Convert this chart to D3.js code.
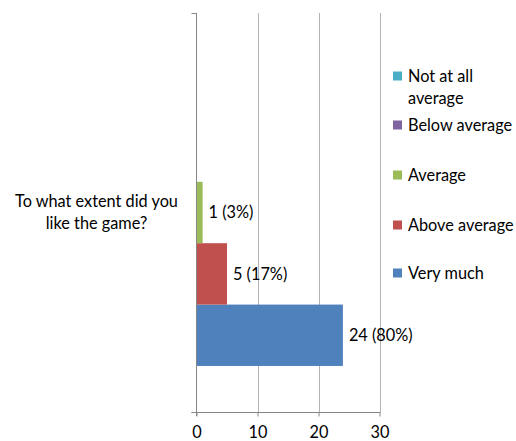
<!DOCTYPE html>
<html>
<head>
<meta charset="utf-8">
<script src="https://cdn.jsdelivr.net/npm/d3@7"></script>
<style>
  html, body { margin: 0; padding: 0; background: #fff; }
  svg { display: block; font-family: Lato, "Open Sans", sans-serif; }
</style>
</head>
<body>
<svg id="chart" width="516" height="441"></svg>
<script>
// Survey question and answer counts
const categories = ["To what extent did you like the game?"];
const seriesNames = ["Very much", "Above average", "Average", "Below average", "Not at all average"];
const seriesValues = [24, 5, 1, 0, 0];
const seriesPercents = [80, 17, 3, 0, 0];
const seriesColors = ["#4F81BD", "#C0504D", "#9BBB59", "#8064A2", "#4BACC6"];
const xTicks = [0, 10, 20, 30];

const FONT_SIZE = 16.3;
const svg = d3.select("#chart");
const plot = { left: 196.5, right: 379.5, top: 13, bottom: 412 };

const x = d3.scaleLinear().domain([0, 30]).range([plot.left, plot.right]);
const yCat = d3.scaleBand().domain(categories)
  .range([plot.bottom, plot.top]).paddingInner(0).paddingOuter(0.15);
const ySeries = d3.scaleBand().domain(seriesNames)
  .range([yCat.bandwidth(), 0]);

const gridColor = "#B3B3B3";
const axisColor = "#868686";

// vertical gridlines
svg.append("g").selectAll("line")
  .data(xTicks.filter(t => t > 0))
  .join("line")
  .attr("x1", d => Math.round(x(d)) + 0.5).attr("x2", d => Math.round(x(d)) + 0.5)
  .attr("y1", plot.top).attr("y2", plot.bottom)
  .attr("stroke", gridColor).attr("stroke-width", 1);

// bars
const rows = seriesNames.map((s, i) => ({ name: s, value: seriesValues[i], pct: seriesPercents[i], color: seriesColors[i] }));
const g = svg.append("g").attr("transform", `translate(0,${yCat(categories[0])})`);
g.selectAll("rect").data(rows).join("rect")
  .attr("x", x(0))
  .attr("y", d => ySeries(d.name))
  .attr("width", d => x(d.value) - x(0))
  .attr("height", ySeries.bandwidth())
  .attr("fill", d => d.color);

// value labels
g.selectAll("text").data(rows.filter(d => d.value > 0)).join("text")
  .attr("x", d => x(d.value) + 6)
  .attr("y", d => ySeries(d.name) + ySeries.bandwidth() / 2)
  .attr("dy", "0.35em")
  .attr("font-size", FONT_SIZE)
  .attr("fill", "#000")
  .text(d => `${d.value} (${d.pct}%)`);

// left (category) axis line with end ticks
const yAxisG = svg.append("g");
yAxisG.append("line")
  .attr("x1", plot.left).attr("x2", plot.left)
  .attr("y1", plot.top).attr("y2", plot.bottom + 4)
  .attr("stroke", axisColor);
[plot.top, plot.bottom].forEach(yy => {
  yAxisG.append("line")
    .attr("x1", plot.left - 5).attr("x2", plot.left)
    .attr("y1", yy + 0.5).attr("y2", yy + 0.5)
    .attr("stroke", axisColor);
});

// bottom value axis
const xAxis = d3.axisBottom(x).tickValues(xTicks).tickSize(4).tickPadding(10).tickFormat(d3.format("d"));
const xAxisG = svg.append("g")
  .attr("transform", `translate(0,${plot.bottom + 0.5})`)
  .call(xAxis);
xAxisG.select(".domain").remove();
xAxisG.append("line")
  .attr("x1", plot.left - 5).attr("x2", plot.right + 1)
  .attr("stroke", axisColor);
xAxisG.selectAll(".tick line").attr("stroke", axisColor);
xAxisG.selectAll(".tick text")
  .attr("font-family", "Lato, 'Open Sans', sans-serif")
  .attr("font-size", FONT_SIZE).attr("fill", "#000");

// category label, wrapped on two lines
const catLines = ["To what extent did you", "like the game?"];
svg.append("text")
  .attr("x", 96.5).attr("y", 206.5)
  .attr("text-anchor", "middle")
  .attr("font-size", FONT_SIZE).attr("fill", "#000")
  .selectAll("tspan").data(catLines).join("tspan")
  .attr("x", 96.5)
  .attr("dy", (d, i) => i === 0 ? 0 : 22.5)
  .text(d => d);

// legend (top entry is the last series)
const legendItems = [
  { name: seriesNames[4], lines: ["Not at all", "average"], color: seriesColors[4] },
  { name: seriesNames[3], lines: ["Below average"], color: seriesColors[3] },
  { name: seriesNames[2], lines: ["Average"], color: seriesColors[2] },
  { name: seriesNames[1], lines: ["Above average"], color: seriesColors[1] },
  { name: seriesNames[0], lines: ["Very much"], color: seriesColors[0] }
];
const legendY = [76, 125, 175, 225, 273];
const lg = svg.append("g");
legendItems.forEach((it, i) => {
  const cy = legendY[i];
  lg.append("rect")
    .attr("x", 393).attr("y", cy - 4.5)
    .attr("width", 9).attr("height", 9)
    .attr("fill", it.color);
  const t = lg.append("text")
    .attr("font-size", FONT_SIZE).attr("fill", "#000");
  it.lines.forEach((ln, j) => {
    t.append("tspan")
      .attr("x", 408)
      .attr("y", cy + j * 22)
      .attr("dy", "0.35em")
      .text(ln);
  });
});
</script>
</body>
</html>
